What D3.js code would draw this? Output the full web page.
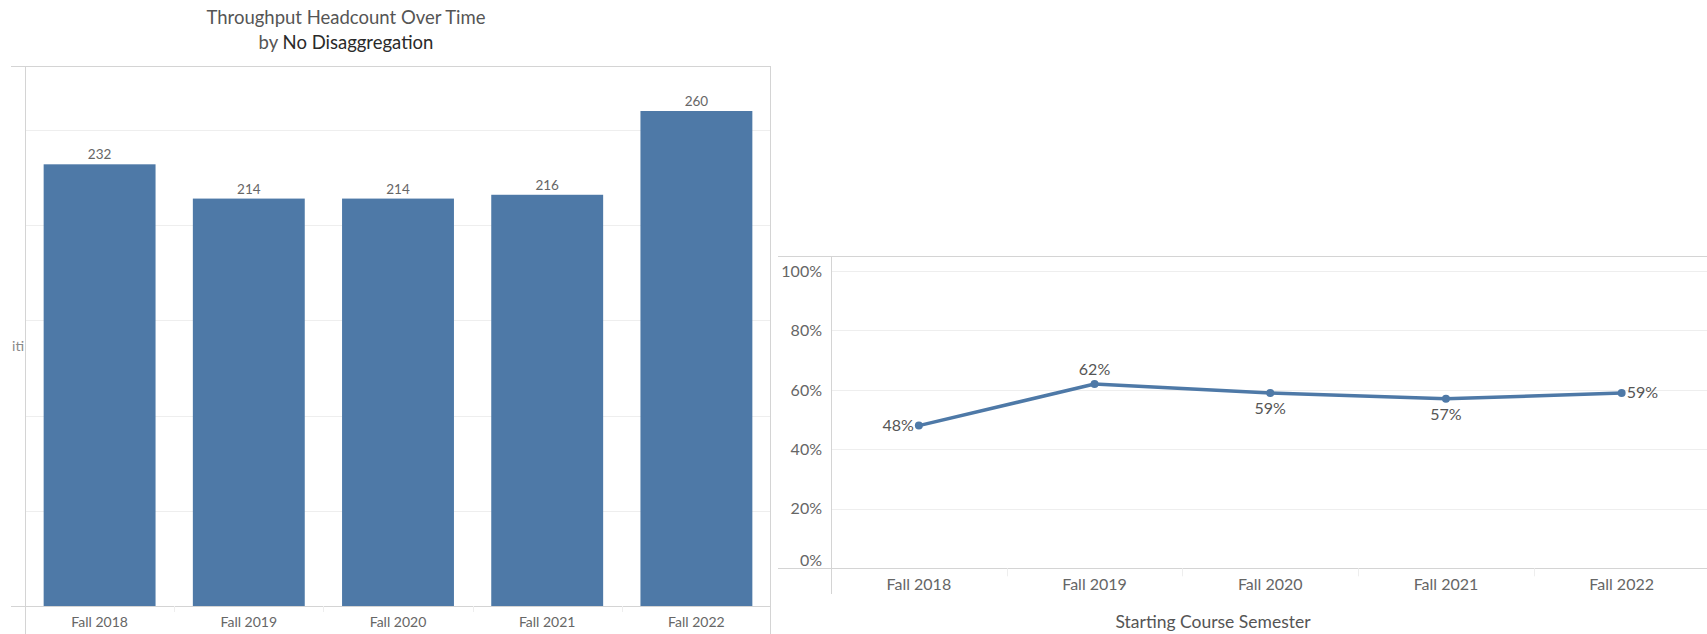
<!DOCTYPE html>
<html>
<head>
<meta charset="utf-8">
<script src="https://cdn.jsdelivr.net/npm/d3@7"></script>
<style>
  html, body { margin: 0; padding: 0; background: #fff; }
  svg { display: block; font-family: Lato, "Open Sans", sans-serif; }
</style>
</head>
<body>
<svg id="chart" width="1707" height="634"></svg>
<script>
// Semesters shared by both views
const semesters = ["Fall 2018", "Fall 2019", "Fall 2020", "Fall 2021", "Fall 2022"];
// Throughput headcount per starting semester
const headcount = [232, 214, 214, 216, 260];
// Success rate per starting semester
const successRate = [0.48, 0.62, 0.59, 0.57, 0.59];
// Gridline values
const headcountTicks = [50, 100, 150, 200, 250];
const rateTicks = [0, 0.2, 0.4, 0.6, 0.8, 1.0];
// Where each rate label sits relative to its point
const rateLabelPos = ["left", "above", "below", "below", "right"];

const BLUE = "#4e79a7";
const svg = d3.select("#chart");

// ---------- Left: headcount bars ----------
const L = { left: 25, right: 771, top: 66, base: 606, frameLeft: 11 };
const xL = d3.scaleBand().domain(semesters).range([L.left, L.right]).paddingInner(0.25).paddingOuter(0.125);
const yL = d3.scaleLinear().domain([0, 280]).range([L.base, L.base - 280 * (495 / 260)]);

svg.append("text").attr("x", 346).attr("y", 24)
  .attr("text-anchor", "middle").attr("font-size", 18.5).attr("fill", "#555")
  .text("Throughput Headcount Over Time");
const sub = svg.append("text").attr("x", 346).attr("y", 49)
  .attr("text-anchor", "middle").attr("font-size", 18.5).attr("fill", "#555");
sub.append("tspan").text("by ");
sub.append("tspan").attr("fill", "#2a2a2a").text("No Disaggregation");

// gridlines
svg.append("g").selectAll("line").data(headcountTicks).join("line")
  .attr("x1", L.left).attr("x2", L.right)
  .attr("y1", d => Math.round(yL(d)) + 0.5).attr("y2", d => Math.round(yL(d)) + 0.5)
  .attr("stroke", "#eeeeee").attr("stroke-width", 1);

// frame: top border, right border, axis line
svg.append("line").attr("x1", L.frameLeft).attr("x2", L.right).attr("y1", L.top + 0.5).attr("y2", L.top + 0.5)
  .attr("stroke", "#d4d4d4");
svg.append("line").attr("x1", L.right - 0.5).attr("x2", L.right - 0.5).attr("y1", L.top).attr("y2", 634)
  .attr("stroke", "#d4d4d4");
svg.append("line").attr("x1", L.left + 0.5).attr("x2", L.left + 0.5).attr("y1", L.top).attr("y2", 634)
  .attr("stroke", "#d4d4d4");

// bars
svg.append("g").selectAll("rect").data(semesters).join("rect")
  .attr("x", d => xL(d)).attr("width", xL.bandwidth())
  .attr("y", (d, i) => yL(headcount[i])).attr("height", (d, i) => yL(0) - yL(headcount[i]))
  .attr("fill", BLUE);

// baseline
svg.append("line").attr("x1", L.frameLeft).attr("x2", L.right).attr("y1", L.base + 0.5).attr("y2", L.base + 0.5)
  .attr("stroke", "#d4d4d4");

// bar value labels
svg.append("g").selectAll("text").data(semesters).join("text")
  .attr("x", d => xL(d) + xL.bandwidth() / 2).attr("y", (d, i) => yL(headcount[i]) - 5)
  .attr("text-anchor", "middle").attr("font-size", 13.5).attr("fill", "#666")
  .text((d, i) => headcount[i]);

// x axis (band separators + labels)
const axL = d3.axisBottom(xL).tickSize(0).tickPadding(0);
const gL = svg.append("g").attr("transform", `translate(0,${L.base})`).call(axL);
gL.select(".domain").remove();
gL.selectAll("text").attr("dy", null).attr("y", 21).attr("font-size", 14).attr("fill", "#666")
  .attr("font-family", "Lato, 'Open Sans', sans-serif");
svg.append("g").selectAll("line").data(semesters.slice(1)).join("line")
  .attr("x1", d => Math.round(xL(d) - xL.step() * xL.paddingInner() / 2) + 0.5)
  .attr("x2", d => Math.round(xL(d) - xL.step() * xL.paddingInner() / 2) + 0.5)
  .attr("y1", L.base).attr("y2", L.base + 6).attr("stroke", "#eeeeee");

// clipped axis title at the far left
svg.append("clipPath").attr("id", "clipL").append("rect").attr("x", 10).attr("y", 320).attr("width", 14).attr("height", 50);
svg.append("text").attr("clip-path", "url(#clipL)").attr("x", 24).attr("y", 351)
  .attr("text-anchor", "end").attr("font-size", 14).attr("fill", "#888").text("iti");

// ---------- Right: success rate line ----------
const R = { frameLeft: 778, left: 831, right: 1709.5, top: 256, base: 568.3, yTop: 271 };
const xR = d3.scaleBand().domain(semesters).range([R.left, R.right]);
const yR = d3.scaleLinear().domain([0, 1]).range([R.base, R.yTop]);

svg.append("line").attr("x1", R.frameLeft).attr("x2", 1707).attr("y1", R.top + 0.5).attr("y2", R.top + 0.5)
  .attr("stroke", "#d4d4d4");
svg.append("g").selectAll("line").data(rateTicks.slice(1)).join("line")
  .attr("x1", R.left).attr("x2", 1707)
  .attr("y1", d => Math.round(yR(d)) + 0.5).attr("y2", d => Math.round(yR(d)) + 0.5)
  .attr("stroke", "#eeeeee");
svg.append("line").attr("x1", R.frameLeft).attr("x2", 1707).attr("y1", Math.round(R.base) + 0.5).attr("y2", Math.round(R.base) + 0.5)
  .attr("stroke", "#d4d4d4");
svg.append("line").attr("x1", R.left + 0.5).attr("x2", R.left + 0.5).attr("y1", R.top).attr("y2", 594)
  .attr("stroke", "#d4d4d4");

// y tick labels (0% nudged up to stay inside the pane)
svg.append("g").selectAll("text").data(rateTicks).join("text")
  .attr("x", 822).attr("y", d => yR(d) + (d === 0 ? -8 : 0)).attr("dy", "0.35em")
  .attr("text-anchor", "end").attr("font-size", 16).attr("fill", "#666")
  .text(d3.format(".0%"));

// x axis
const axR = d3.axisBottom(xR).tickSize(0).tickPadding(0);
const gR = svg.append("g").attr("transform", `translate(0,${R.base})`).call(axR);
gR.select(".domain").remove();
gR.selectAll("text").attr("dy", null).attr("y", 22).attr("font-size", 16).attr("fill", "#666")
  .attr("font-family", "Lato, 'Open Sans', sans-serif");
svg.append("g").selectAll("line").data(semesters.slice(1)).join("line")
  .attr("x1", d => Math.round(xR(d)) + 0.5).attr("x2", d => Math.round(xR(d)) + 0.5)
  .attr("y1", R.base).attr("y2", R.base + 8).attr("stroke", "#eeeeee");

svg.append("text").attr("x", 1213).attr("y", 628).attr("text-anchor", "middle")
  .attr("font-size", 17.5).attr("fill", "#555").text("Starting Course Semester");

// line + points
const cx = d => xR(d) + xR.bandwidth() / 2;
const line = d3.line().x((d, i) => cx(semesters[i])).y(d => yR(d));
svg.append("path").datum(successRate).attr("d", line)
  .attr("fill", "none").attr("stroke", BLUE).attr("stroke-width", 3.5).attr("stroke-linejoin", "round");
svg.append("g").selectAll("circle").data(successRate).join("circle")
  .attr("cx", (d, i) => cx(semesters[i])).attr("cy", d => yR(d)).attr("r", 4).attr("fill", BLUE);

// point labels
svg.append("g").selectAll("text").data(successRate).join("text")
  .attr("x", (d, i) => cx(semesters[i]) + (rateLabelPos[i] === "left" ? -5 : rateLabelPos[i] === "right" ? 5 : 0))
  .attr("y", (d, i) => yR(d) + (rateLabelPos[i] === "above" ? -15 : rateLabelPos[i] === "below" ? 16 : 0))
  .attr("dy", "0.35em")
  .attr("text-anchor", (d, i) => rateLabelPos[i] === "left" ? "end" : rateLabelPos[i] === "right" ? "start" : "middle")
  .attr("font-size", 16).attr("fill", "#555")
  .text(d3.format(".0%"));
</script>
</body>
</html>
